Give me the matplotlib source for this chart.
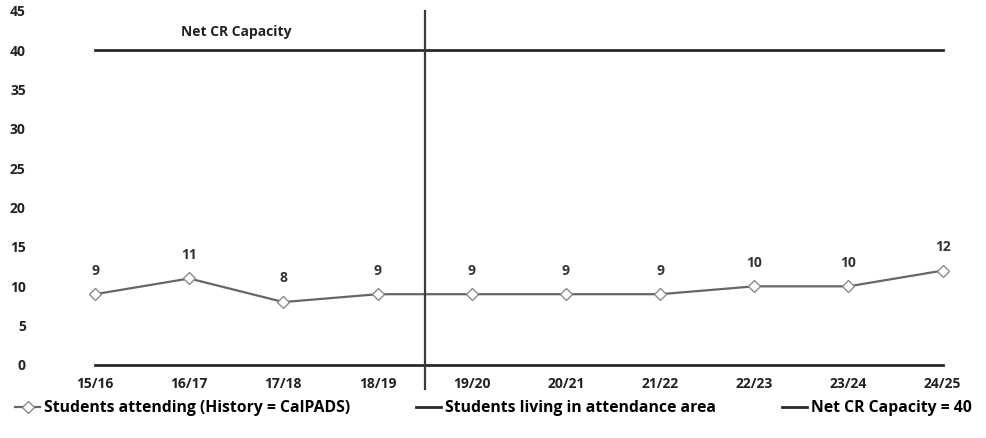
import matplotlib.pyplot as plt

plt.rcParams['font.family'] = ['Open Sans', 'DejaVu Sans']
plt.rcParams['font.weight'] = 'bold'

years = ['15/16', '16/17', '17/18', '18/19', '19/20',
         '20/21', '21/22', '22/23', '23/24', '24/25']
attending = [9, 11, 8, 9, 9, 9, 9, 10, 10, 12]
living = [0, 0, 0, 0, 0, 0, 0, 0, 0, 0]
capacity = [40] * len(years)
yticks = [0, 5, 10, 15, 20, 25, 30, 35, 40, 45]
split_at = 3.5  # history / projection boundary

fig = plt.figure(figsize=(9.87, 4.38), dpi=100)
ax = fig.add_axes([48 / 987, 73 / 438, 937 / 987, 354 / 438])

x = list(range(len(years)))
ax.plot(x, capacity, color='#2a2a2a', lw=2.0, clip_on=False,
        label='Net CR Capacity = 40')
ax.plot(x, living, color='#2a2a2a', lw=2.0, clip_on=False,
        label='Students living in attendance area')
ax.plot(x, attending, color='#666666', lw=1.6, marker='D', ms=6.5,
        mfc='white', mec='#8a8a8a', mew=1.0, clip_on=False,
        label='Students attending (History = CalPADS)')

for xi, v in zip(x, attending):
    ax.annotate(str(v), (xi, v), xytext=(0, 17), textcoords='offset points',
                ha='center', va='center', fontsize=10, fontweight='bold',
                color='#333333')

# vertical divider between history and projection years
ax.plot([split_at, split_at], [45, -3], color='#3a3a3a', lw=1.6, clip_on=False)
ax.text(1.5, 42.3, 'Net CR Capacity', ha='center', va='center',
        fontsize=10, fontweight='bold', color='#222222')

ax.set_xlim(-0.5, 9.45)
ax.set_ylim(0, 45)
ax.set_xticks(x)
ax.set_xticklabels(years)
ax.set_yticks(yticks)
for s in ax.spines.values():
    s.set_visible(False)
ax.tick_params(length=0, labelsize=10, labelcolor='#222222')
ax.tick_params(axis='x', pad=9)
ax.tick_params(axis='y', pad=16)

handles, labels = ax.get_legend_handles_labels()
order = [2, 1, 0]
fig.legend([handles[i] for i in order], [labels[i] for i in order],
           loc='center', bbox_to_anchor=(0.5, 30 / 438), ncol=3,
           frameon=False, handlelength=1.6, handletextpad=0.25,
           columnspacing=4.2, prop={'weight': 'bold', 'size': 11.3})

fig.savefig('out.png', dpi=100)
